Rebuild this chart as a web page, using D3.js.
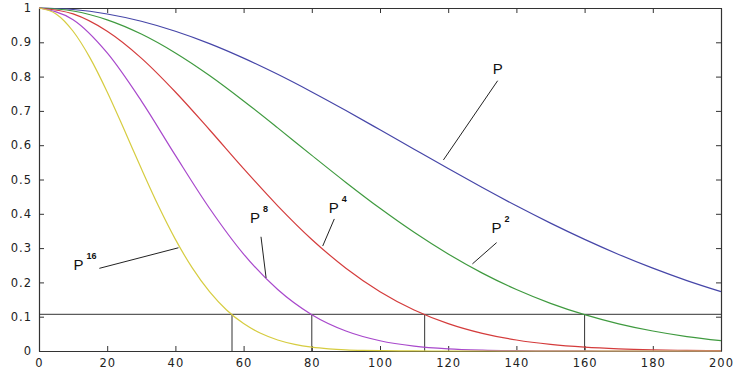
<!DOCTYPE html>
<html>
<head>
<meta charset="utf-8">
<script src="https://cdn.jsdelivr.net/npm/d3@7/dist/d3.min.js"></script>
<style>
  html, body { margin: 0; padding: 0; background: #fff; }
  svg { display: block; font-family: "Liberation Sans", Arial, Helvetica, sans-serif; }
</style>
</head>
<body>
<svg id="chart" width="733" height="372"></svg>
<script>
// Sample positions along the x axis
const xCoarse = [0, 10, 20, 30, 40, 50, 60, 70, 80, 90, 100, 110, 120, 130, 140, 150, 160, 170, 180, 190, 200];
const xFine = [0, 5, 10, 15, 20, 25, 30, 35, 40, 45, 50, 55, 60, 65, 70, 75, 80, 85, 90, 95, 100, 110, 120, 140, 160, 180, 200];

// Curve values
const pVals   = [1, 0.9956, 0.9826, 0.9613, 0.9322, 0.8962, 0.8539, 0.8066, 0.7552, 0.7010, 0.6449, 0.5882, 0.5318, 0.4765, 0.4233, 0.3728, 0.3254, 0.2815, 0.2415, 0.2053, 0.1730];
const p2Vals  = [1, 0.9913, 0.9655, 0.9241, 0.8690, 0.8032, 0.7291, 0.6506, 0.5703, 0.4914, 0.4159, 0.3460, 0.2828, 0.2271, 0.1792, 0.1390, 0.1059, 0.0793, 0.0583, 0.0421, 0.0300];
const p4Vals  = [1, 0.9827, 0.9322, 0.8540, 0.7552, 0.6451, 0.5316, 0.4233, 0.3252, 0.2415, 0.1730, 0.1197, 0.0800, 0.0516, 0.0321, 0.0193, 0.0112, 0.0063, 0.0034, 0.0018, 0.0009];
const p8Vals  = [1, 0.9657, 0.8690, 0.7293, 0.5703, 0.4162, 0.2826, 0.1792, 0.1058, 0.0583, 0.0299, 0.0143, 0.0064, 0.0027, 0.0010, 0.0004, 0.0001, 0, 0, 0, 0];
const p16Vals = [1, 0.9826, 0.9322, 0.8539, 0.7552, 0.6449, 0.5318, 0.4233, 0.3254, 0.2415, 0.1730, 0.1197, 0.0800, 0.0516, 0.0321, 0.0193, 0.0112, 0.0063, 0.0034, 0.0018, 0.0009, 0.0002, 0, 0, 0, 0, 0];

// Threshold level and the x positions where each curve crosses it
const threshold = 0.107;
const crossings = [56.6, 80, 113.1, 160];

// Tick labels
const xTicks = [0, 20, 40, 60, 80, 100, 120, 140, 160, 180, 200];
const yTicks = [0, 0.1, 0.2, 0.3, 0.4, 0.5, 0.6, 0.7, 0.8, 0.9, 1];

const series = [
  { xs: xCoarse, ys: pVals,   color: "#4646a8" },
  { xs: xCoarse, ys: p2Vals,  color: "#3f9a3f" },
  { xs: xCoarse, ys: p4Vals,  color: "#d43c3c" },
  { xs: xCoarse, ys: p8Vals,  color: "#a848cc" },
  { xs: xFine,   ys: p16Vals, color: "#d6cc40" }
];

// Curve labels (base, exponent) with leader lines, all in data units
const labels = [
  { base: "P", exp: "",   tx: 133.1, ty: 0.808, from: [134.5, 0.788], to: [118.6, 0.557] },
  { base: "P", exp: "2",  tx: 132.7, ty: 0.343, from: [134.2, 0.316], to: [127.1, 0.254] },
  { base: "P", exp: "4",  tx: 85.0,  ty: 0.403, from: [86.6, 0.385],  to: [83.2, 0.306] },
  { base: "P", exp: "8",  tx: 61.9,  ty: 0.373, from: [65.1, 0.333],  to: [66.6, 0.213] },
  { base: "P", exp: "16", tx: 10.1,  ty: 0.236, from: [17.7, 0.241],  to: [40.9, 0.301] }
];

const W = 733, H = 372;
const margin = { left: 39, right: 12, top: 8, bottom: 21 };
const svg = d3.select("#chart");

const x = d3.scaleLinear().domain([0, 200]).range([margin.left, W - margin.right]);
const y = d3.scaleLinear().domain([0, 1]).range([H - margin.bottom, margin.top]);

const axisColor = "#333";

// Axes with inward ticks on all four sides
const gBottom = svg.append("g").attr("transform", `translate(0,${y(0)})`)
  .call(d3.axisBottom(x).tickValues(xTicks).tickSizeInner(-5).tickSizeOuter(0).tickPadding(8).tickFormat(d3.format("d")));
const gTop = svg.append("g").attr("transform", `translate(0,${y(1)})`)
  .call(d3.axisTop(x).tickValues(xTicks).tickSizeInner(-5).tickSizeOuter(0).tickFormat(""));
const gLeft = svg.append("g").attr("transform", `translate(${x(0)},0)`)
  .call(d3.axisLeft(y).tickValues(yTicks).tickSizeInner(-5).tickSizeOuter(0).tickPadding(7).tickFormat(d => d === 0 ? "0" : d === 1 ? "1" : d3.format(".1f")(d)));
const gRight = svg.append("g").attr("transform", `translate(${x(200)},0)`)
  .call(d3.axisRight(y).tickValues(yTicks).tickSizeInner(-5).tickSizeOuter(0).tickFormat(""));

[gBottom, gTop, gLeft, gRight].forEach(g => {
  g.select(".domain").attr("stroke", axisColor).attr("stroke-width", 1.2);
  g.selectAll(".tick line").attr("stroke", axisColor);
  g.selectAll(".tick text")
    .attr("fill", "#222")
    .style("font-family", "'DejaVu Sans', sans-serif")
    .style("font-size", "11.5px")
    .style("letter-spacing", "1px");
});

// Threshold line and vertical drops
svg.append("line")
  .attr("x1", x(0)).attr("x2", x(200))
  .attr("y1", y(threshold)).attr("y2", y(threshold))
  .attr("stroke", axisColor).attr("stroke-width", 1);
svg.selectAll(".drop").data(crossings).enter().append("line")
  .attr("class", "drop")
  .attr("x1", d => x(d)).attr("x2", d => x(d))
  .attr("y1", y(0)).attr("y2", y(threshold))
  .attr("stroke", axisColor).attr("stroke-width", 1);

// Curves
const line = d3.line().curve(d3.curveMonotoneX);
series.forEach(s => {
  svg.append("path")
    .attr("d", line(s.xs.map((v, i) => [x(v), y(s.ys[i])])))
    .attr("fill", "none")
    .attr("stroke", s.color)
    .attr("stroke-width", 1.2);
});

// Curve labels
labels.forEach(l => {
  svg.append("line")
    .attr("x1", x(l.from[0])).attr("y1", y(l.from[1]))
    .attr("x2", x(l.to[0])).attr("y2", y(l.to[1]))
    .attr("stroke", "#222").attr("stroke-width", 1);
  const t = svg.append("text")
    .attr("x", x(l.tx)).attr("y", y(l.ty))
    .attr("fill", "#111")
    .style("font-size", "15px");
  t.append("tspan").text(l.base);
  if (l.exp) {
    t.append("tspan")
      .attr("dx", 3).attr("dy", -11)
      .style("font-size", "9px").style("font-weight", "bold")
      .text(l.exp);
  }
});
</script>
</body>
</html>
